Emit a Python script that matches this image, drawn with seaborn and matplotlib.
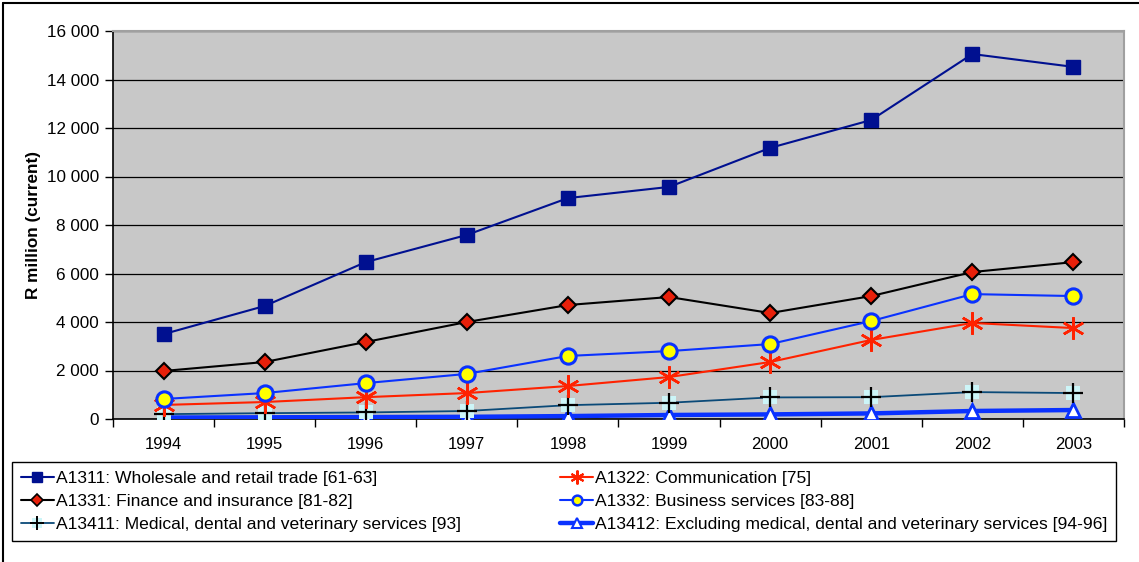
import matplotlib
matplotlib.use("Agg")
import matplotlib.pyplot as plt
from matplotlib.lines import Line2D
from matplotlib.ticker import FuncFormatter, FixedLocator
import seaborn as sns

years = [1994, 1995, 1996, 1997, 1998, 1999, 2000, 2001, 2002, 2003]

wholesale = [3500, 4660, 6470, 7590, 9110, 9570, 11180, 12330, 15050, 14520]
communication = [580, 700, 900, 1070, 1360, 1730, 2350, 3260, 3960, 3750]
finance = [1980, 2350, 3175, 4000, 4700, 5030, 4370, 5070, 6060, 6470]
business = [825, 1070, 1480, 1860, 2600, 2800, 3090, 4040, 5150, 5070]
medical = [200, 240, 270, 330, 570, 670, 890, 900, 1110, 1070]
excluding = [60, 70, 80, 90, 120, 165, 190, 230, 330, 370]

labels = {
    "wholesale": "A1311: Wholesale and retail trade [61-63]",
    "communication": "A1322: Communication [75]",
    "finance": "A1331: Finance and insurance [81-82]",
    "business": "A1332: Business services [83-88]",
    "medical": "A13411: Medical, dental and veterinary services [93]",
    "excluding": "A13412: Excluding medical, dental and veterinary services [94-96]",
}

sns.set_theme(style="white")
plt.rcParams["font.family"] = ["Liberation Sans", "DejaVu Sans"]

FS = 12.3
LEG_FS = 12.6

fig = plt.figure(figsize=(11.39, 5.62), dpi=100)
ax = fig.add_axes([113 / 1139, 1 - 419 / 562, (1124 - 113) / 1139, (419 - 31) / 562])
ax.set_facecolor("#C8C8C8")


def draw(y, color, lw, marker, ms, mfc, mec, mew, z):
    sns.lineplot(x=years, y=y, ax=ax, color=color, linewidth=lw, marker=marker,
                 markersize=ms, markerfacecolor=mfc, markeredgecolor=mec,
                 markeredgewidth=mew, zorder=z, legend=False)


# bottom-up drawing order
draw(excluding, "#0A32FF", 3.2, "^", 10, "white", "#0A32FF", 2.0, 3)
# medical: light cyan square behind a black plus
sns.lineplot(x=years, y=medical, ax=ax, color="#0B4A78", linewidth=1.3, marker="s",
             markersize=10, markerfacecolor="#CCF5F8", markeredgecolor="#CCF5F8",
             markeredgewidth=0, zorder=4, legend=False)
sns.scatterplot(x=years, y=medical, ax=ax, marker="+", s=190, color="black",
                linewidth=1.6, zorder=5, legend=False)
draw(communication, "#FF2200", 1.5, (6, 2, 0), 16, "#FF2200", "#FF2200", 1.8, 6)
draw(business, "#0A32FF", 1.5, "o", 11, "#FFFF00", "#0A32FF", 2.2, 7)
draw(finance, "black", 1.5, "D", 8, "#E8200A", "black", 1.5, 8)
draw(wholesale, "#001090", 1.5, "s", 10, "#001090", "#001090", 1, 9)

ax.set_xlim(1993.5, 2003.5)
ax.set_ylim(0, 16000)
ax.yaxis.set_major_locator(FixedLocator(range(0, 16001, 2000)))
ax.yaxis.set_major_formatter(FuncFormatter(lambda v, p: f"{int(v):,}".replace(",", " ")))
ax.grid(axis="y", color="black", linewidth=0.9)
ax.set_axisbelow(True)

ax.set_xticks([y - 0.5 for y in years] + [2003.5])
ax.set_xticklabels([])
ax.set_xticks(years, minor=True)
ax.set_xticklabels([str(y) for y in years], minor=True)
ax.tick_params(axis="x", which="major", direction="out", length=6, width=1, color="black", bottom=True)
ax.tick_params(axis="x", which="minor", length=0, pad=13, labelsize=FS - 0.3, colors="black")
ax.tick_params(axis="y", direction="out", length=6, width=1, color="black", left=True, labelsize=FS,
               pad=4, colors="black")

for side in ("left", "bottom"):
    ax.spines[side].set_color("black")
    ax.spines[side].set_linewidth(1.2)
for side in ("top", "right"):
    ax.spines[side].set_color("#A0A0A0")
    ax.spines[side].set_linewidth(1.5)

ax.set_xlabel("")
ax.set_ylabel("R million (current)", fontsize=FS, fontweight="bold", color="black", labelpad=4)


def handle(color, lw, marker, ms, mfc, mec, mew):
    return Line2D([], [], color=color, linewidth=lw, marker=marker, markersize=ms,
                  markerfacecolor=mfc, markeredgecolor=mec, markeredgewidth=mew)


h_wholesale = handle("#001090", 1.5, "s", 7, "#001090", "#001090", 1)
h_comm = handle("#FF2200", 1.5, (6, 2, 0), 10, "#FF2200", "#FF2200", 1.5)
h_fin = handle("black", 1.5, "D", 6, "#E8200A", "black", 1.2)
h_bus = handle("#0A32FF", 1.5, "o", 7, "#FFFF00", "#0A32FF", 1.8)
h_med_bg = handle("#0B4A78", 1.3, "s", 7, "#CCF5F8", "#CCF5F8", 0)
h_med_fg = handle("none", 0, "+", 10, "black", "black", 1.4)
h_exc = handle("#0A32FF", 3.2, "^", 7, "white", "#0A32FF", 1.5)

handles = [h_wholesale, h_fin, (h_med_bg, h_med_fg), h_comm, h_bus, h_exc]
names = [labels["wholesale"], labels["finance"], labels["medical"],
         labels["communication"], labels["business"], labels["excluding"]]
leg = fig.legend(handles, names, ncol=2, loc="upper left",
                 bbox_to_anchor=(12 / 1139, 1 - 462 / 562), fontsize=LEG_FS,
                 frameon=True, fancybox=False, edgecolor="black", framealpha=1,
                 handlelength=1.9, handletextpad=0.12, columnspacing=5.65,
                 labelspacing=0.45, borderpad=0.5, borderaxespad=0)
leg.get_frame().set_linewidth(1.0)
for t in leg.get_texts():
    t.set_color("black")

# outer chart frame
fig.add_artist(Line2D([3 / 1139, 3 / 1139], [0, 1 - 3 / 562], color="black", linewidth=1.5,
                      transform=fig.transFigure))
fig.add_artist(Line2D([3 / 1139, 1], [1 - 3 / 562, 1 - 3 / 562], color="black", linewidth=1.5,
                      transform=fig.transFigure))

fig.savefig("out.png", dpi=100)
